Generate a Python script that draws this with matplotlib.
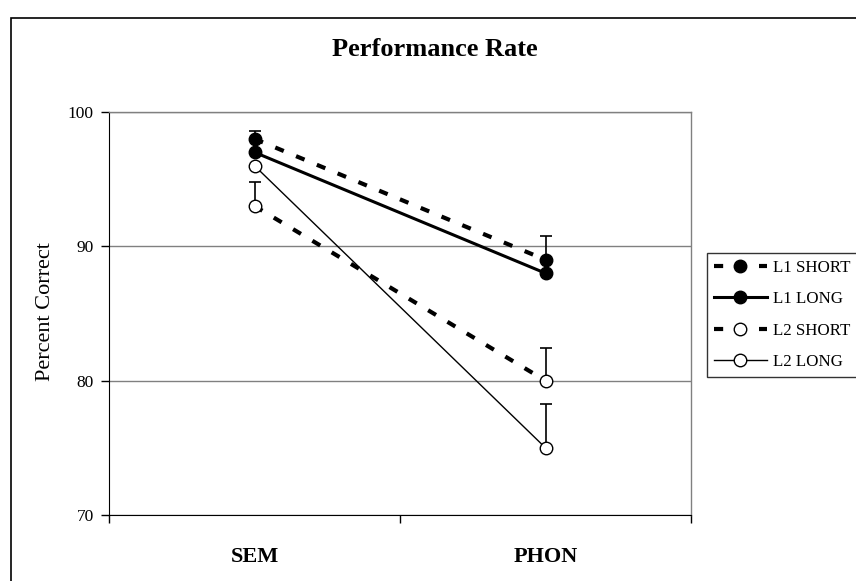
import matplotlib
matplotlib.use("Agg")
import matplotlib.pyplot as plt
from matplotlib.patches import Rectangle

categories = ["SEM", "PHON"]
l1_short = [98, 89]
l1_long = [97, 88]
l2_short = [93, 80]
l2_long = [96, 75]
l1_short_err = [0.6, 1.8]
l2_short_err = [1.8, 2.4]
l2_long_err = [0.0, 3.3]
series_names = ["L1 SHORT", "L1 LONG", "L2 SHORT", "L2 LONG"]
yticks = [70, 80, 90, 100]

plt.rcParams['font.family'] = ['Liberation Serif', 'DejaVu Serif']

fig = plt.figure(figsize=(8.56, 5.81), dpi=100)
W, H = 856, 581
ax = fig.add_axes([109 / W, 1 - 515 / H, (691 - 109) / W, (515 - 112) / H])

# chart-area border (cropped at right/bottom)
fig.patches.append(Rectangle((11 / W, -0.1), 1.2, 1 - 18 / H + 0.1, transform=fig.transFigure,
                             fill=False, edgecolor='black', linewidth=1.2))

x = list(range(len(categories)))

# error bars (upper only)
for vals, err in [(l1_short, l1_short_err), (l2_short, l2_short_err), (l2_long, l2_long_err)]:
    xs = [xi for xi, e in zip(x, err) if e > 0]
    ys = [v for v, e in zip(vals, err) if e > 0]
    es = [e for e in err if e > 0]
    ax.errorbar(xs, ys, yerr=[[0] * len(es), es], fmt='none', ecolor='black',
                elinewidth=1.2, capsize=4, capthick=1.2, zorder=2)

ms = 9
dash = (0, (2.2, 3.2))
ax.plot(x, l1_short, color='black', linestyle=dash, linewidth=3, marker='o', markersize=ms,
        markerfacecolor='black', markeredgecolor='black', label=series_names[0], zorder=3)
ax.plot(x, l1_long, color='black', linestyle='-', linewidth=2.2, marker='o', markersize=ms,
        markerfacecolor='black', markeredgecolor='black', label=series_names[1], zorder=3)
ax.plot(x, l2_short, color='black', linestyle=dash, linewidth=3, marker='o', markersize=ms,
        markerfacecolor='white', markeredgecolor='black', markeredgewidth=1, label=series_names[2], zorder=3)
ax.plot(x, l2_long, color='black', linestyle='-', linewidth=1, marker='o', markersize=ms,
        markerfacecolor='white', markeredgecolor='black', markeredgewidth=1, label=series_names[3], zorder=3)

ax.set_xlim(-0.5, 1.5)
ax.set_ylim(70, 100)
ax.set_yticks(yticks)
ax.set_yticklabels([str(t) for t in yticks], fontsize=12.5)
ax.yaxis.grid(True, color='#808080', linewidth=1)
ax.set_axisbelow(True)
ax.tick_params(axis='y', direction='out', length=6, width=1, pad=5)

# category ticks at boundaries, labels at centers
ax.set_xticks([-0.5, 0.5, 1.5])
ax.set_xticklabels([])
ax.set_xticks(x, minor=True)
ax.set_xticklabels(categories, minor=True, fontsize=16, fontweight='bold')
ax.tick_params(axis='x', which='major', direction='out', length=6, width=1)
ax.tick_params(axis='x', which='minor', length=0, pad=23)

for s in ['top', 'right']:
    ax.spines[s].set_color('#808080')
    ax.spines[s].set_linewidth(1)
ax.spines['left'].set_color('black')
ax.spines['bottom'].set_color('black')

fig.text(45 / W, 1 - 312 / H, 'Percent Correct', rotation=90, ha='center', va='center', fontsize=16)
fig.text(435 / W, 1 - 50 / H, 'Performance Rate', ha='center', va='center', fontsize=19, fontweight='bold')

leg = fig.legend(loc='upper left', bbox_to_anchor=(707 / W, 1 - 253 / H), borderaxespad=0,
                 fontsize=12.2, frameon=True, fancybox=False, edgecolor='black', handlelength=3.1,
                 handletextpad=0.4, borderpad=0.42, labelspacing=0.9)
leg.get_frame().set_linewidth(1)

fig.savefig('out.png', dpi=100)
